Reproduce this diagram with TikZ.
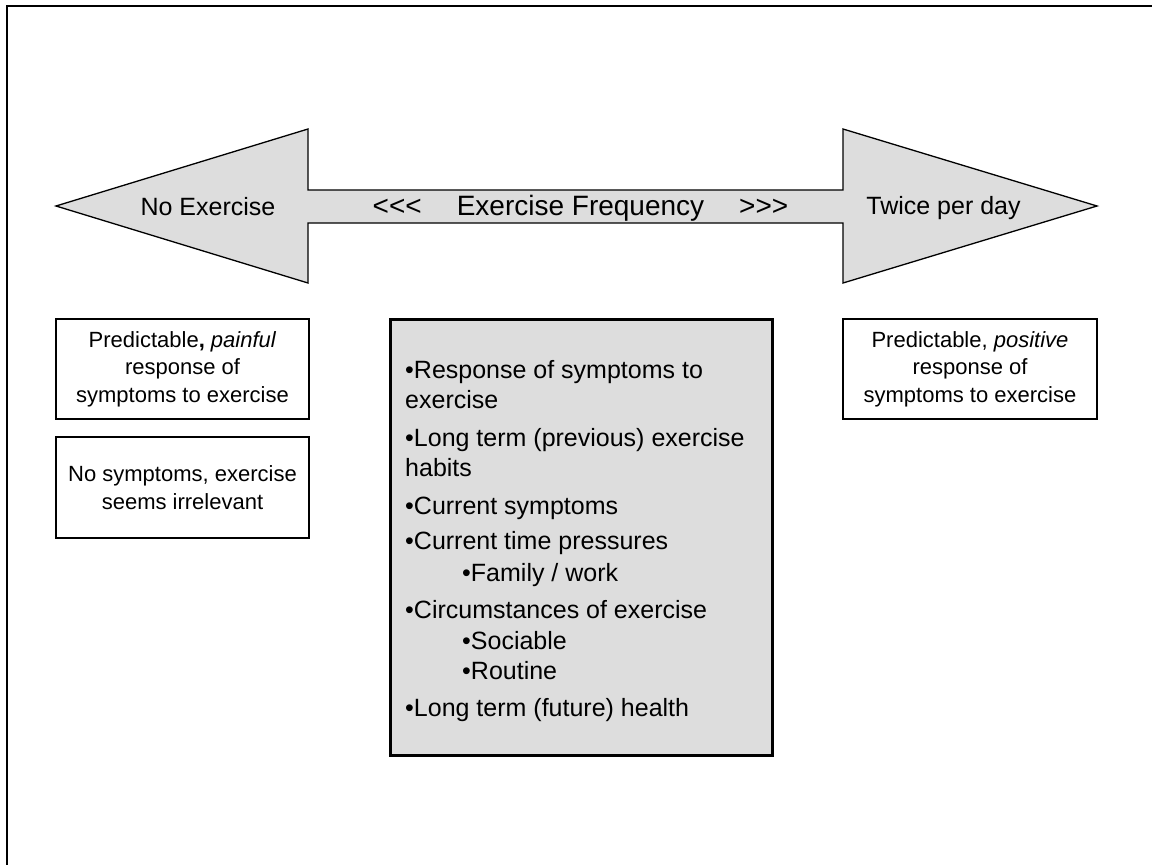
\documentclass[tikz,border=0pt]{standalone}
\usepackage{fontspec}
\setmainfont{Liberation Sans}
\definecolor{panelgray}{HTML}{DDDDDD}
\newcommand{\lt}{<\kern0pt<\kern0pt<}
\newcommand{\gtt}{>\kern0pt>\kern0pt>}
\begin{document}
\begin{tikzpicture}[x=1pt,y=-1pt,
  sidebox/.style={draw=black, line width=1.3pt, fill=white, minimum width=253pt,
    minimum height=100pt, align=center, inner sep=0pt,
    font=\fontsize{22}{27.5}\selectfont},
  factorbox/.style={draw=black, line width=3pt, fill=panelgray, minimum width=382pt,
    minimum height=436pt, inner sep=0pt},
  arrowlabel/.style={anchor=base, inner sep=0pt, font=\fontsize{25}{30}\selectfont},
  factor/.style={anchor=base west, inner sep=0pt, font=\fontsize{25}{30}\selectfont}]
\useasboundingbox (0,0) rectangle (1152,865);
\fill[white] (0,0) rectangle (1152,865);
% page frame
\draw[line width=2pt] (6.5,870) -- (6.5,5.5) -- (1160,5.5);
% double-headed frequency arrow
\draw[line width=1.3pt, fill=panelgray, line join=miter]
  (56,206) -- (308,129) -- (308,190) -- (843,190) -- (843,129) -- (1097,206)
  -- (843,283) -- (843,223) -- (308,223) -- (308,283) -- cycle;
\node[arrowlabel] (none) at (208,215) {No Exercise};
\node[arrowlabel] (twice) at (943.5,214) {Twice per day};
\node[arrowlabel, font=\fontsize{28}{33}\selectfont] (freq) at (580.5,215)
  {\lt\hspace{35pt}Exercise Frequency\hspace{35pt}\gtt};
% outcome boxes
\node[sidebox] (painful) at (182.5,369)
  {Predictable\textbf{,} \textit{painful}\\response of\\symptoms to exercise};
\node[sidebox, minimum height=101pt] (irrelevant) at (182.5,487.5)
  {No symptoms, exercise\\seems irrelevant};
\node[sidebox, minimum width=254pt] (positive) at (970,369)
  {Predictable, \textit{positive}\\response of\\symptoms to exercise};
% influencing factors
\node[factorbox] (factors) at (581,537) {};
\node[factor] (f1) at (405,378) {•Response of symptoms to};
\node[factor] (f1b) at (405,408) {exercise};
\node[factor] (f2) at (405,446) {•Long term (previous) exercise};
\node[factor] (f2b) at (405,476) {habits};
\node[factor] (f3) at (405,514) {•Current symptoms};
\node[factor] (f4) at (405,549) {•Current time pressures};
\node[factor] (f4a) at (462,581) {•Family / work};
\node[factor] (f5) at (405,618) {•Circumstances of exercise};
\node[factor] (f5a) at (462,649) {•Sociable};
\node[factor] (f5b) at (462,679) {•Routine};
\node[factor] (f6) at (405,716) {•Long term (future) health};
\end{tikzpicture}
\end{document}
